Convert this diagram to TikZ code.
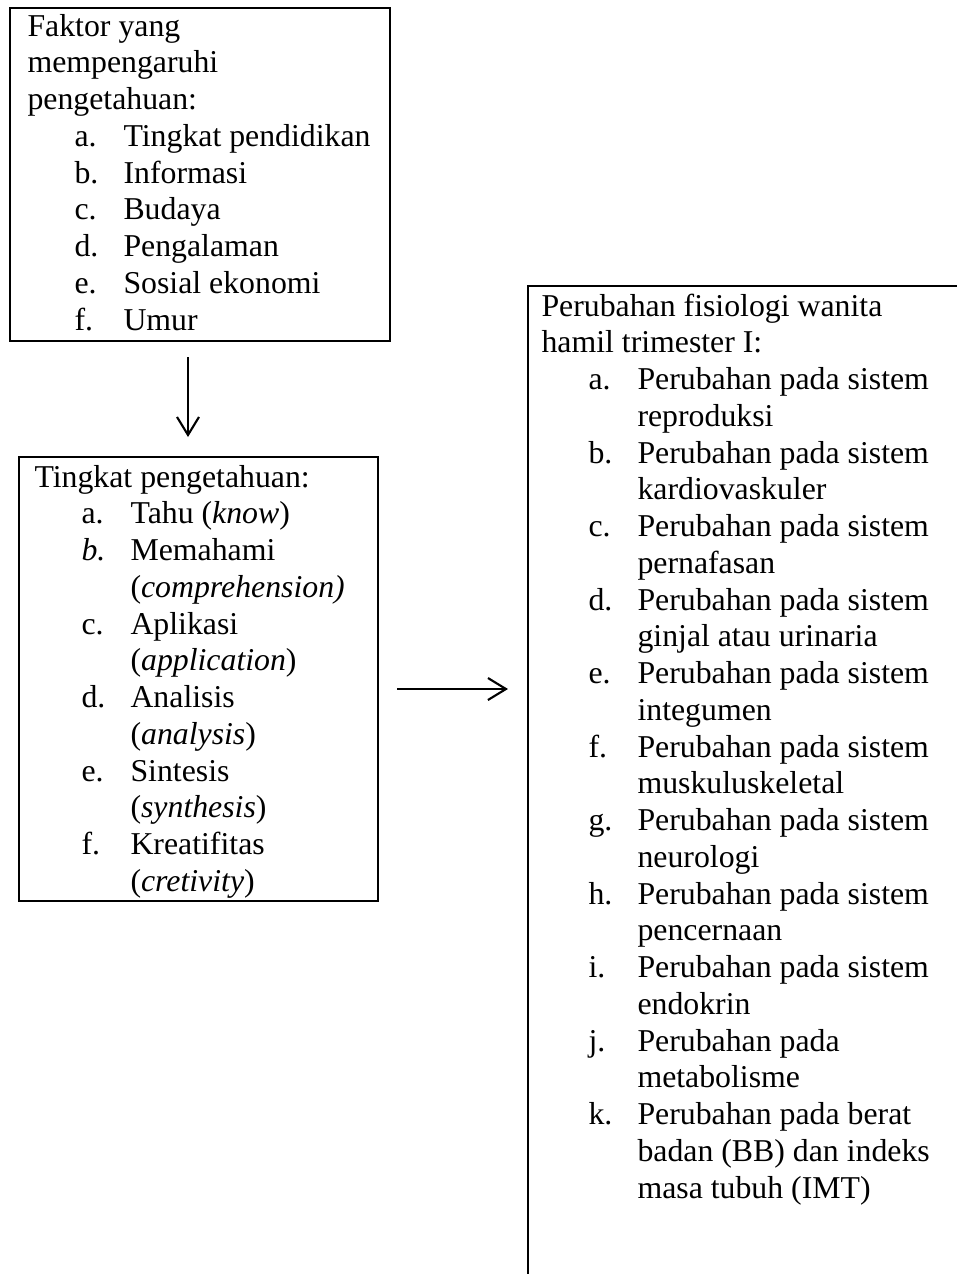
\documentclass[tikz,border=0pt]{standalone}
\usepackage{fontspec}
\setmainfont{Liberation Serif}
\usetikzlibrary{arrows.meta}
\newlength\pxu \setlength\pxu{0.3774pt}
\newcommand{\lbl}[1]{\hspace*{47\pxu}\makebox[49\pxu][l]{#1}}
\newcommand{\cont}{\hspace*{96\pxu}}
\tikzset{
  boxnode/.style={draw, line width=0.9pt, inner sep=0pt, anchor=north west},
  txt/.style={anchor=base west, inner sep=0pt, font=\fontsize{12}{13.87}\selectfont},
  arr/.style={line width=0.8pt, -{Straight Barb[length=6.8pt, width=8.3pt, line width=0.8pt]}}
}
\begin{document}
\begin{tikzpicture}[x=0.3774pt, y=-0.3774pt]
\useasboundingbox (0,0) rectangle (957,1274);
\clip (0,0) rectangle (957,1274);
% boxes
\node[boxnode, minimum width={380*\pxu}, minimum height={333*\pxu}] (b1) at (9,7) {};
\node[boxnode, minimum width={359*\pxu}, minimum height={444*\pxu}] (b2) at (18,456) {};
\node[boxnode, minimum width={700*\pxu}, minimum height={1200*\pxu}] (b3) at (527,285) {};
% texts
\node[txt] (t1) at (27,36) {\begin{tabular}[t]{@{}l@{}}
Faktor yang\\
mempengaruhi\\
pengetahuan:\\
\lbl{a.}Tingkat pendidikan\\
\lbl{b.}Informasi\\
\lbl{c.}Budaya\\
\lbl{d.}Pengalaman\\
\lbl{e.}Sosial ekonomi\\
\lbl{f.}Umur
\end{tabular}};
\node[txt] (t2) at (34,487) {\begin{tabular}[t]{@{}l@{}}
Tingkat pengetahuan:\\
\lbl{a.}Tahu (\textit{know})\\
\lbl{\textit{b.}}Memahami\\
\cont(\textit{comprehension)}\\
\lbl{c.}Aplikasi\\
\cont(\textit{application})\\
\lbl{d.}Analisis\\
\cont(\textit{analysis})\\
\lbl{e.}Sintesis\\
\cont(\textit{synthesis})\\
\lbl{f.}Kreatifitas\\
\cont(\textit{cretivity})
\end{tabular}};
\node[txt] (t3) at (541,316) {\begin{tabular}[t]{@{}l@{}}
Perubahan fisiologi wanita\\
hamil trimester I:\\
\lbl{a.}Perubahan pada sistem\\
\cont reproduksi\\
\lbl{b.}Perubahan pada sistem\\
\cont kardiovaskuler\\
\lbl{c.}Perubahan pada sistem\\
\cont pernafasan\\
\lbl{d.}Perubahan pada sistem\\
\cont ginjal atau urinaria\\
\lbl{e.}Perubahan pada sistem\\
\cont integumen\\
\lbl{f.}Perubahan pada sistem\\
\cont muskuluskeletal\\
\lbl{g.}Perubahan pada sistem\\
\cont neurologi\\
\lbl{h.}Perubahan pada sistem\\
\cont pencernaan\\
\lbl{i.}Perubahan pada sistem\\
\cont endokrin\\
\lbl{j.}Perubahan pada\\
\cont metabolisme\\
\lbl{k.}Perubahan pada berat\\
\cont badan (BB) dan indeks\\
\cont masa tubuh (IMT)
\end{tabular}};
% connectors
\coordinate (ax) at (188,0);
\coordinate (ay) at (0,689);
\draw[arr, shorten <={15*\pxu}, shorten >={19*\pxu}] (b1.south -| ax) -- (b2.north -| ax);
\draw[arr, shorten <={18*\pxu}, shorten >={19*\pxu}] (b2.east |- ay) -- (b3.west |- ay);
\end{tikzpicture}
\end{document}
